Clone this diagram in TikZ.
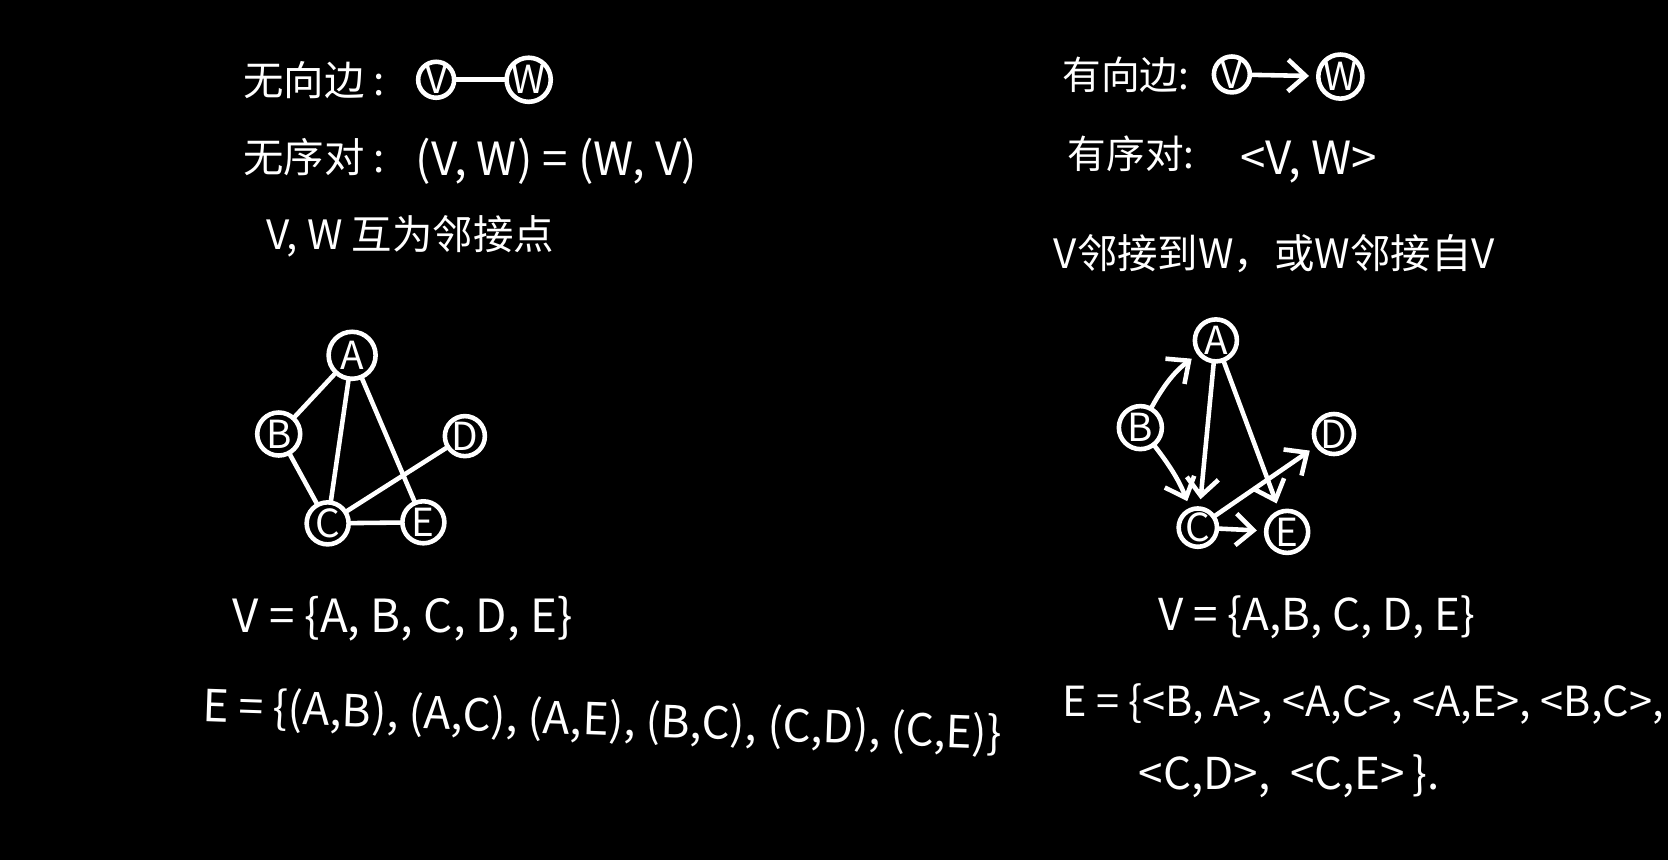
\documentclass[tikz,border=0pt]{standalone}
\usepackage{fontspec}
\setmainfont{Noto Sans CJK SC}
\usetikzlibrary{arrows.meta}
\begin{document}
\begin{tikzpicture}[x=0.010638cm,y=-0.010638cm,
  every node/.style={text=white},
  vtx/.style={draw=white, line width=1.3pt, circle, inner sep=0pt, font=\fontsize{11}{12}\selectfont},
  lbl/.style={anchor=west, font=\fontsize{13}{16}\selectfont, inner sep=0pt},
  cjk/.style={lbl, font=\fontsize{11.5}{14}\selectfont},
  edge/.style={draw=white, line width=1.3pt, line cap=round},
  arr/.style={edge, -{Straight Barb[length=5pt,width=9pt]}, shorten >=2pt}]
\fill[black] (0,0) rectangle (1568,808);
\useasboundingbox (0,0) rectangle (1568,808);
% ---------- left ----------
\node[cjk] (t1) at (228,75) {无向边 :};
\node[vtx, minimum size=0.36cm] (v1) at (410,75) {V};
\node[vtx, minimum size=0.38cm] (w1) at (497,75) {W};
\draw[edge] (v1) -- (w1);
\node[cjk] (t2) at (228,148) {无序对 :};
\node[lbl] (t3) at (390,152) {(V, W) = (W, V)};
\node[cjk] (t4) at (250,222) {V, W 互为邻接点};
\node[vtx, minimum size=0.47cm] (A1) at (331,334) {A};
\node[vtx, minimum size=0.43cm] (B1) at (262,408) {B};
\node[vtx, minimum size=0.40cm] (D1) at (437,410) {D};
\node[vtx, minimum size=0.42cm] (C1) at (308,492) {C};
\node[vtx, minimum size=0.42cm] (E1) at (398,491) {E};
\draw[edge] (A1) -- (B1);
\draw[edge] (A1) -- (C1);
\draw[edge] (A1) -- (E1);
\draw[edge] (B1) -- (C1);
\draw[edge] (C1) -- (D1);
\draw[edge] (C1) -- (E1);
\node[lbl] (vs1) at (218,582) {V = \{A, B, C, D, E\}};
\node[lbl, rotate=-2, font=\fontsize{12.6}{15}\selectfont] (es1) at (190,665) {E = \{(A,B), (A,C), (A,E), (B,C), (C,D), (C,E)\}};
% ---------- right ----------
\node[cjk, font=\fontsize{11}{14}\selectfont] (t5) at (998,70) {有向边:};
\node[vtx, minimum size=0.30cm] (v2) at (1158,70) {V};
\node[vtx, minimum size=0.40cm] (w2) at (1260,72) {W};
\draw[arr] (v2) -- (w2);
\node[cjk, font=\fontsize{11}{14}\selectfont] (t6) at (1003,145) {有序对:};
\node[lbl] (t7) at (1165,152) {<V, W>};
\node[cjk] (t8) at (990,238) {V邻接到W，或W邻接自V};
\node[vtx, minimum size=0.42cm] (A2) at (1143,320) {A};
\node[vtx, minimum size=0.43cm] (B2) at (1072,402) {B};
\node[vtx, minimum size=0.40cm] (D2) at (1254,408) {D};
\node[vtx, minimum size=0.38cm] (C2) at (1126,496) {C};
\node[vtx, minimum size=0.42cm] (E2) at (1210,500) {E};
\draw[arr] (B2) to[bend left=12] (A2);
\draw[arr] (A2) -- (C2);
\draw[arr] (A2) -- (E2);
\draw[arr] (B2) to[bend left=8] (C2);
\draw[arr] (C2) -- (D2);
\draw[arr] (C2) -- (E2);
\node[lbl, font=\fontsize{12.5}{15}\selectfont] (vs2) at (1088,580) {V = \{A,B, C, D, E\}};
\node[lbl, font=\fontsize{11.8}{14}\selectfont] (es2) at (998,662) {E = \{<B, A>, <A,C>, <A,E>, <B,C>,};
\node[lbl, font=\fontsize{12.5}{15}\selectfont] (es3) at (1070,730) {<C,D>,\ \ <C,E>\,\}.};
\end{tikzpicture}
\end{document}
